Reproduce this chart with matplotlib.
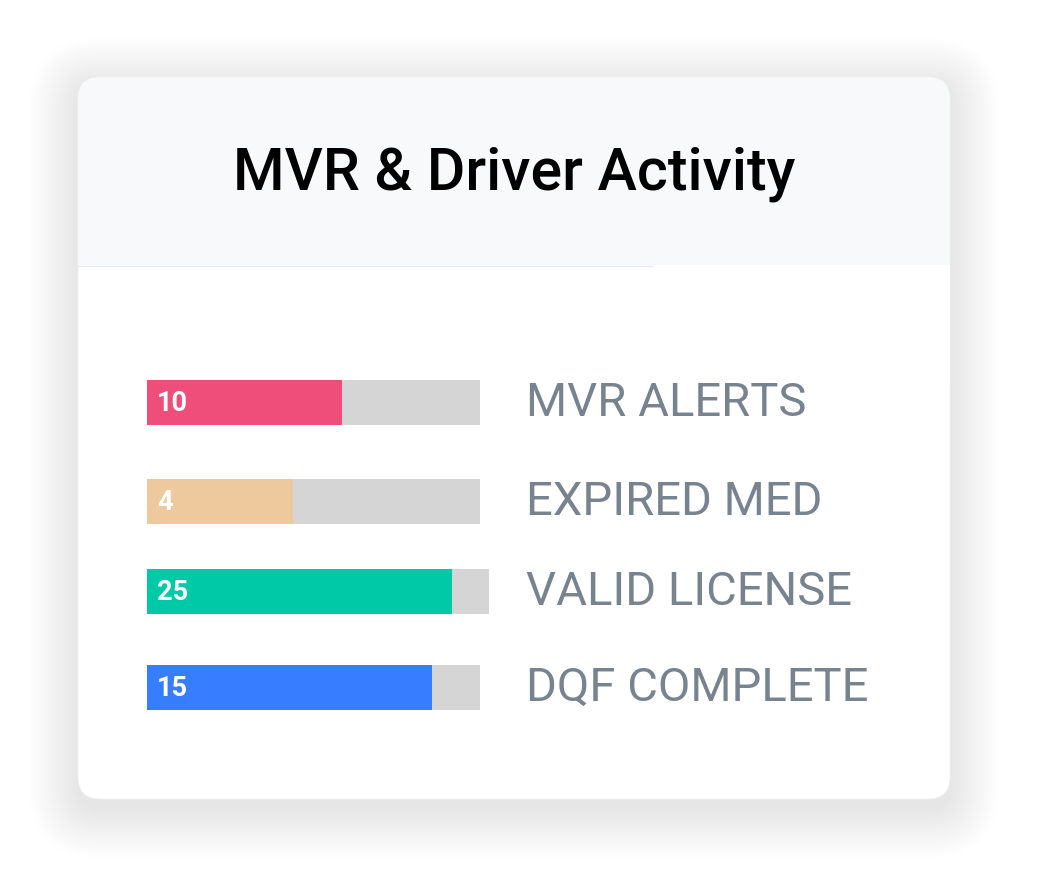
import matplotlib
matplotlib.use("Agg")
import matplotlib.pyplot as plt
from matplotlib.patches import FancyBboxPatch, Rectangle

title = "MVR & Driver Activity"
categories = ["MVR ALERTS", "EXPIRED MED", "VALID LICENSE", "DQF COMPLETE"]
values = [10, 4, 25, 15]
totals = [17.1, 9.1, 28.0, 17.5]
colors = ["#ef4d7a", "#efc99e", "#00c9a7", "#377dff"]

W, H = 1050, 879
fig = plt.figure(figsize=(W/100, H/100), dpi=100)
ax = fig.add_axes([0, 0, 1, 1])
ax.set_xlim(0, W); ax.set_ylim(H, 0); ax.axis("off")

# soft shadow
for i in range(25):
    pad = 2 + i*4
    ax.add_patch(FancyBboxPatch((78-pad/2, 88-pad/2), 872+pad, 722+pad,
                                boxstyle="round,pad=0,rounding_size=%d" % (22+pad/2),
                                fc="#000000", ec="none", alpha=0.0045, zorder=0))
# card
ax.add_patch(FancyBboxPatch((78, 78), 872, 722, boxstyle="round,pad=0,rounding_size=22",
                            fc="white", ec="#f0f0f0", lw=0.6, zorder=1))
ax.add_patch(FancyBboxPatch((78.5, 78.5), 871, 300, boxstyle="round,pad=0,rounding_size=22",
                            fc="#f8f9fb", ec="none", zorder=2))
ax.add_patch(Rectangle((78.5, 266), 871, 120, fc="white", ec="none", zorder=2))
ax.plot([78, 652], [266.5, 266.5], color="#e7eaf0", lw=1, zorder=3)
ax.text(514, 174, title, fontsize=42.5, fontweight="medium", family="Roboto",
        ha="center", va="center", color="#000000", zorder=4)

centers = [403, 502, 592, 688]
track_px = [333, 333, 342, 333]
bh = 45
x0 = 147
for c, v, t, tp, col, cat in zip(centers, values, totals, track_px, colors, categories):
    scale = tp / t
    ax.barh(c, t*scale, left=x0, height=bh, color="#d5d5d5", zorder=4)
    ax.barh(c, v*scale, left=x0, height=bh, color=col, zorder=5)
    ax.text(x0+10, c+1, str(v), fontsize=19.5, fontweight="bold", family="Roboto",
            color="white", ha="left", va="center", zorder=6)
    ax.text(526, c, cat, fontsize=34, family="Roboto", color="#77838f",
            ha="left", va="center", zorder=6)

fig.savefig("out.png", dpi=100, facecolor="white")
